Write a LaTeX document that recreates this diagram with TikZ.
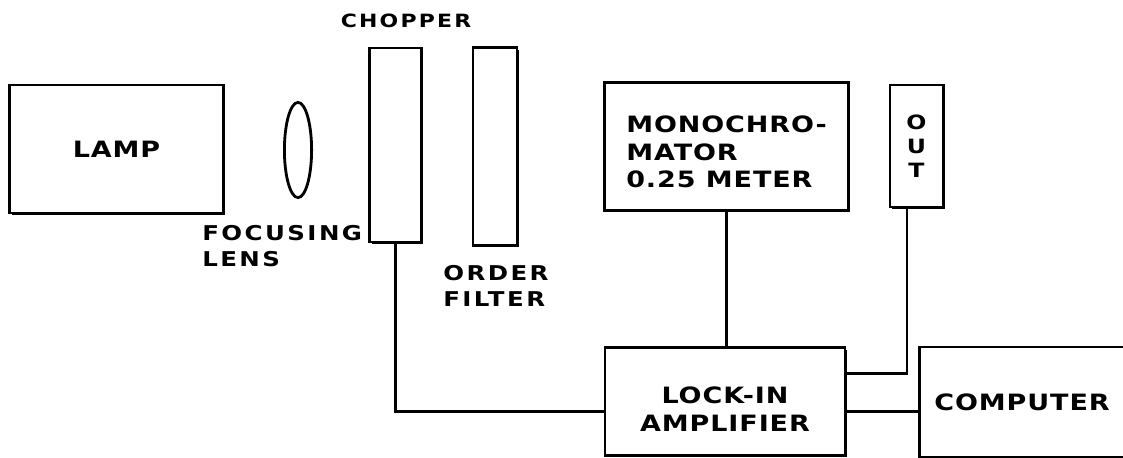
\documentclass[tikz,border=0pt]{standalone}
\usepackage{fontspec}
\setmainfont{DejaVu Sans}
\newfontfamily\boxfont{DejaVu Sans Bold}[FakeStretch=1.2, LetterSpace=4]
\newfontfamily\tagfont{DejaVu Sans Bold}[FakeStretch=1.2, LetterSpace=12]
\usetikzlibrary{shapes.geometric, shadows}
\tikzset{
    unit/.style={rectangle, draw=black, fill=white, line width=2pt, inner sep=0pt, drop shadow={shadow xshift=1.5pt, shadow yshift=-1.5pt, opacity=1, fill=black}, font=\boxfont\fontsize{16}{19.5}\selectfont, align=center},
    lens/.style={ellipse, draw=black, line width=2pt, inner sep=0pt},
    label/.style={inner sep=0pt, align=left, font=\tagfont\fontsize{14.5}{18.5}\selectfont},
    wire/.style={line width=2pt},
}
\begin{document}
\begin{tikzpicture}[x=0.025cm, y=-0.025cm]
        \useasboundingbox (0,0) rectangle (1123,458);
        \clip (0,0) rectangle (1123,458);
        % Nodes
        \node[unit, minimum width=5.33cm, minimum height=3.2cm] (lamp) at (116.5,149) {LAMP};
        \node[lens, minimum width=0.68cm, minimum height=2.38cm] (lens) at (298,150) {};
        \node[unit, minimum width=1.28cm, minimum height=4.85cm] (chopper) at (395.5,145) {};
        \node[unit, minimum width=1.1cm, minimum height=4.93cm] (filter) at (495,146.5) {};
        \node[unit, minimum width=6.08cm, minimum height=3.18cm, align=left, text height=58.5pt] (mono) at (726.5,146.5) {MONOCHRO-\\MATOR\\0.25 METER};
        \node[unit, minimum width=1.33cm, minimum height=3.05cm, font=\boxfont\fontsize{14}{17}\selectfont] (out) at (916.5,146) {O\\U\\T};
        \node[unit, minimum width=6cm, minimum height=2.68cm, text height=42.5pt] (lockin) at (725,401.5) {LOCK-IN\\AMPLIFIER};
        \node[unit, minimum width=5.13cm, minimum height=2.75cm] (computer) at (1022,402) {COMPUTER};

        % Labels
        \node[label, font=\tagfont\fontsize{13}{18.5}\selectfont] (chopperlbl) at (406,21) {CHOPPER};
        \node[label, anchor=west] (lenslbl) at (202,246) {FOCUSING\\LENS};
        \node[label, anchor=west] (filterlbl) at (443,285.5) {ORDER\\FILTER};

        % Wires
        \draw[wire] (chopper.south) |- ([yshift=-0.24cm]lockin.west);
        \draw[wire] (mono.south) -- (mono.south |- lockin.north);
        \draw[wire] ([xshift=-0.24cm]out.south) |- ([yshift=0.71cm]lockin.east);
        \draw[wire] ([yshift=-0.24cm]lockin.east) -- ([yshift=-0.24cm]lockin.east -| computer.west);
    \end{tikzpicture}
\end{document}
